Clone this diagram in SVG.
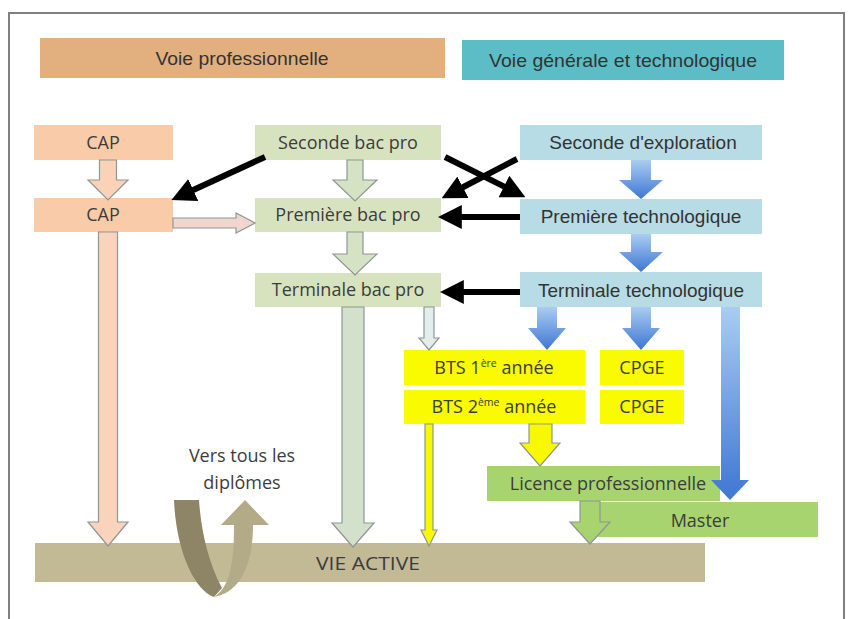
<svg xmlns="http://www.w3.org/2000/svg" width="851" height="619" viewBox="0 0 851 619">
<defs>
  <linearGradient id="blueG" x1="0" y1="0" x2="0" y2="1">
    <stop offset="0" stop-color="#A9CCF2"/>
    <stop offset="1" stop-color="#3E76D2"/>
  </linearGradient>
  <marker id="blk" viewBox="0 0 10 10" refX="7" refY="5" markerWidth="4" markerHeight="4" orient="auto" markerUnits="strokeWidth">
    <path d="M0,0 L10,5 L0,10 z" fill="#000"/>
  </marker>
  <style>
    .t{font-family:"Open Sans","Liberation Sans",sans-serif;font-size:18px;fill:#3c3c3c;text-anchor:middle}
    .ta{font-family:"Liberation Sans",Arial,sans-serif;font-size:19px;fill:#333;text-anchor:middle}
    .th{font-family:"Liberation Sans",Arial,sans-serif;font-size:19px;fill:#333;text-anchor:middle}
    .peach{fill:#FACBA9}
    .green{fill:#D7E3BE}
    .lblue{fill:#B7DCE5}
    .yel{fill:#FAFA00}
    .lic{fill:#A8D46F}
    .hol{stroke:#8E9696;stroke-width:1.2}
    .blk{stroke:#000;stroke-width:6;fill:none;marker-end:url(#blk)}
  </style>
</defs>
<rect x="0" y="0" width="851" height="619" fill="#fff"/>
<rect x="9" y="13" width="835" height="620" fill="#fff" stroke="#808080" stroke-width="2"/>

<g id="header-pro">
  <rect x="40" y="38" width="405" height="40" fill="#E2B07F"/>
  <text class="th" x="242" y="65" textLength="173" lengthAdjust="spacingAndGlyphs">Voie professionnelle</text>
</g>
<g id="header-gen">
  <rect x="462" y="40" width="322" height="40" fill="#5DBDC6"/>
  <text class="th" x="623" y="67" textLength="268" lengthAdjust="spacingAndGlyphs">Voie générale et technologique</text>
</g>

<g id="cap1">
  <rect class="peach" x="34" y="125" width="139" height="35"/>
  <text class="t" x="103" y="149">CAP</text>
</g>
<g id="cap2">
  <rect class="peach" x="34" y="198" width="139" height="34"/>
  <text class="t" x="103" y="221">CAP</text>
</g>
<g id="seconde-bac-pro">
  <rect class="green" x="255" y="125" width="186" height="35"/>
  <text class="t" x="348" y="149">Seconde bac pro</text>
</g>
<g id="premiere-bac-pro">
  <rect class="green" x="255" y="198" width="186" height="34"/>
  <text class="t" x="348" y="221">Première bac pro</text>
</g>
<g id="terminale-bac-pro">
  <rect class="green" x="255" y="273" width="186" height="34"/>
  <text class="t" x="348" y="296">Terminale bac pro</text>
</g>
<g id="seconde-exploration">
  <rect class="lblue" x="520" y="125" width="242" height="35"/>
  <text class="ta" x="643" y="149">Seconde d'exploration</text>
</g>
<g id="premiere-techno">
  <rect class="lblue" x="520" y="199" width="242" height="35"/>
  <text class="ta" x="641" y="223">Première technologique</text>
</g>
<g id="terminale-techno">
  <rect class="lblue" x="520" y="272" width="242" height="35"/>
  <text class="ta" x="641" y="297">Terminale technologique</text>
</g>
<g id="bts1">
  <rect class="yel" x="404" y="350" width="181" height="35"/>
  <text class="t" x="494" y="374">BTS 1<tspan font-size="10.5" dy="-7">ère</tspan><tspan dy="7"> année</tspan></text>
</g>
<g id="bts2">
  <rect class="yel" x="404" y="390" width="181" height="34"/>
  <text class="t" x="494" y="413">BTS 2<tspan font-size="10.5" dy="-7">ème</tspan><tspan dy="7"> année</tspan></text>
</g>
<g id="cpge1">
  <rect class="yel" x="600" y="350" width="84" height="35"/>
  <text class="t" x="642" y="374">CPGE</text>
</g>
<g id="cpge2">
  <rect class="yel" x="600" y="390" width="84" height="34"/>
  <text class="t" x="642" y="413">CPGE</text>
</g>
<g id="licence-pro">
  <rect class="lic" x="487" y="466" width="233" height="35"/>
  <text class="t" x="608" y="490">Licence professionnelle</text>
</g>
<g id="master">
  <rect class="lic" x="598" y="502" width="220" height="35"/>
  <text class="t" x="700" y="527">Master</text>
</g>
<g id="vie-active">
  <rect x="35" y="543" width="670" height="39" fill="#C2B995"/>
  <text class="t" x="368" y="570" font-size="19" textLength="104" lengthAdjust="spacingAndGlyphs">VIE ACTIVE</text>
</g>
<g id="vers-tous">
  <text class="t" x="242" y="462" font-size="20" fill="#555">Vers tous les</text>
  <text class="t" x="242" y="489" font-size="20" fill="#555">diplômes</text>
</g>

<g id="connectors">
  <!-- peach hollow arrows -->
  <polygon class="hol" fill="#FAD2B8" points="99.5,160 116.5,160 116.5,180 128,180 108,200 88,180 99.5,180"/>
  <polygon class="hol" fill="#FAD3BD" points="98.5,232 117.5,232 117.5,522 128,522 108,546 88,522 98.5,522"/>
  <polygon class="hol" fill="#F1D6CF" points="173,218 236,218 236,213 255,223 236,233 236,228 173,228"/>
  <!-- green hollow arrows -->
  <polygon class="hol" fill="#D5E2C3" points="347,160 363,160 363,180 377,180 355,201 333,180 347,180"/>
  <polygon class="hol" fill="#D5E2C3" points="347,232 363,232 363,254 377,254 355,275 333,254 347,254"/>
  <polygon class="hol" fill="#D3E0CB" points="342,307 364,307 364,523 374,523 353,547 332,523 342,523"/>
  <polygon class="hol" fill="#E2EDEC" points="424,307 434,307 434,338 439,338 429,350 419,338 424,338"/>
  <!-- blue arrows -->
  <polygon fill="url(#blueG)" points="631,160 651,160 651,180 663,180 641,199 619,180 631,180"/>
  <polygon fill="url(#blueG)" points="631,234 651,234 651,252 663,252 641,272 619,252 631,252"/>
  <polygon fill="url(#blueG)" points="537,307 557,307 557,328 566,328 547,350 528,328 537,328"/>
  <polygon fill="url(#blueG)" points="631,307 651,307 651,328 660,328 641,350 622,328 631,328"/>
  <polygon fill="url(#blueG)" points="721,307 740,307 740,480 749,480 730,500 711,480 721,480"/>
  <!-- yellow arrows -->
  <polygon class="hol" fill="#F8F800" points="425,424 433,424 433,530 437,530 429,546 421,530 425,530"/>
  <polygon class="hol" fill="#F8F800" stroke="#B0B070" points="529,424 552,424 552,443 560,443 540,466 520,443 529,443"/>
  <!-- licence to vie active -->
  <polygon class="hol" fill="#A8D46F" stroke="#7C9A8C" points="580,501 600,501 600,522 610,522 590,544 570,522 580,522"/>
  <!-- black arrows -->
  <line class="blk" x1="265" y1="157" x2="178" y2="197"/>
  <line class="blk" x1="517" y1="159" x2="448" y2="195"/>
  <line class="blk" x1="445" y1="157" x2="519" y2="194"/>
  <line class="blk" x1="520" y1="217" x2="445" y2="217"/>
  <line class="blk" x1="520" y1="292" x2="447" y2="292"/>
  <!-- U-turn arrow -->
  <path d="M174,500 L199,500 C201,530 208,562 222,588 L214,597 C194,590 176,550 174,500 Z" fill="#8E8566"/>
  <path d="M214,597 C232,586 234,556 234,525 L221,525 L245,500 L269,525 L253,525 C253,562 242,592 214,597 Z" fill="#B3AA88"/>
</g>
</svg>
